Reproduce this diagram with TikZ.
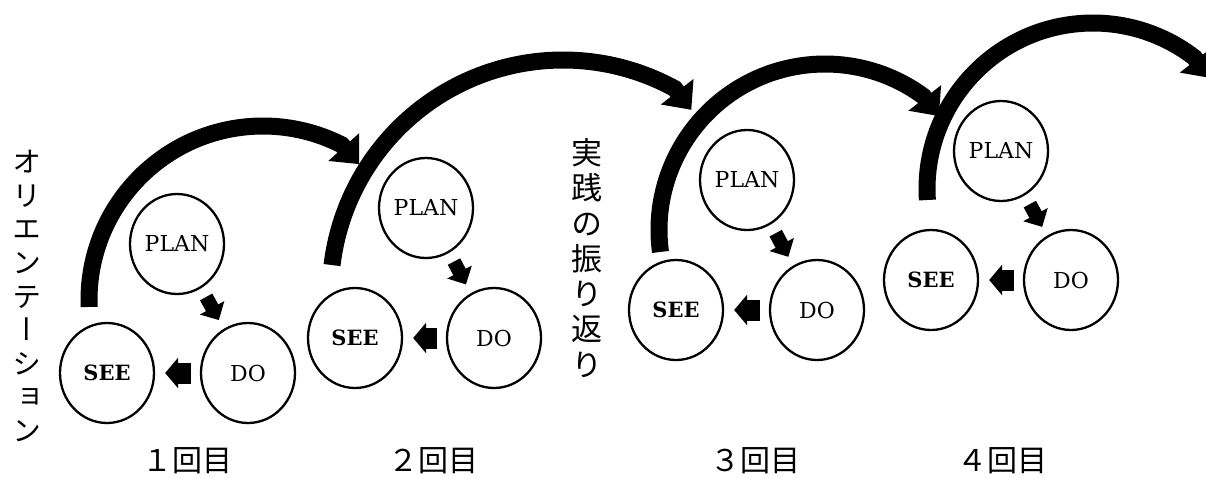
\documentclass[tikz,border=0pt]{standalone}
\usepackage{fontspec}
\usetikzlibrary{arrows.meta,shapes.geometric,calc}
\setmainfont{DejaVu Serif}
\newfontfamily\jpfont{Noto Sans CJK JP}
\newfontfamily\jpvfont[RawFeature=+vert]{Noto Sans CJK JP}
\tikzset{
  stage/.style={ellipse, draw, line width=2.3pt, minimum width=94pt, minimum height=100pt,
    inner sep=0pt, font=\fontsize{22}{26}\selectfont},
  seetext/.style={font=\bfseries\fontsize{21}{26}\selectfont},
  bigarc/.style={line width=17pt, -{Triangle[length=23pt,width=40pt]}},
  leftarrow/.style={line width=21pt, -{Triangle[length=13pt,width=30pt]},
    shorten <=9pt, shorten >=10pt},
  diagarrow/.style={line width=14pt, -{Triangle[length=14pt,width=27pt]},
    shorten <=10pt, shorten >=10pt},
  roundlabel/.style={font=\jpfont\fontsize{30}{36}\selectfont, inner sep=0pt},
  vlabel/.style={align=center, inner sep=0pt},
}
\begin{document}
\begin{tikzpicture}[x=1pt,y=-1pt]
\useasboundingbox (0,0) rectangle (1206,477);
\clip (0,0) rectangle (1206,477);
\fill[white] (0,0) rectangle (1206,477);

% group 1
\node[stage] (plan1) at (177,244) {PLAN};
\node[stage] (do1) at (248,373) {DO};
\node[stage, seetext] (see1) at (107,373) {SEE};
% group 2
\node[stage] (plan2) at (426,208) {PLAN};
\node[stage] (do2) at (494,338) {DO};
\node[stage, seetext] (see2) at (355,338) {SEE};
% group 3
\node[stage] (plan3) at (747,180) {PLAN};
\node[stage] (do3) at (817,310) {DO};
\node[stage, seetext] (see3) at (676,310) {SEE};
% group 4
\node[stage] (plan4) at (1001,151) {PLAN};
\node[stage] (do4) at (1071,280) {DO};
\node[stage, seetext] (see4) at (931,280) {SEE};

% small arrows
\foreach \i in {1,2,3,4} {
  \draw[diagarrow] (plan\i) -- (do\i);
  \draw[leftarrow] (do\i) -- (see\i);
}

% big arcs (circle centres)
\coordinate (c1) at (263,300);
\coordinate (c2) at (563,292.6);
\coordinate (c3) at (825,230);
\coordinate (c4) at (1093,189);

\draw[bigarc] ($(c1)+(177.7:174)$) arc[start angle=177.7, end angle=296.9, radius=174] -- ++(48:26);
\draw[bigarc] ($(c2)+(186.8:232.6)$) arc[start angle=186.8, end angle=298.7, radius=232.6] -- ++(52:27);
\draw[bigarc] ($(c3)+(172.4:166)$) arc[start angle=172.4, end angle=306.4, radius=166] -- ++(52:25);
\draw[bigarc] ($(c4)+(176.2:166)$) arc[start angle=176.2, end angle=307.6, radius=166] -- ++(52:26);

% vertical texts
\node[vlabel, font=\jpvfont\fontsize{29}{33.6}\selectfont] (orient) at (27,296)
  {オ\\リ\\エ\\ン\\テ\\ー\\シ\\ョ\\ン};
\node[vlabel, font=\jpvfont\fontsize{31}{35.3}\selectfont] (review) at (587,258)
  {実\\践\\の\\振\\り\\返\\り};

% round labels
\node[roundlabel] (r1) at (187,461) {１回目};
\node[roundlabel] (r2) at (433,461) {２回目};
\node[roundlabel] (r3) at (755,461) {３回目};
\node[roundlabel] (r4) at (1002,461) {４回目};
\end{tikzpicture}
\end{document}
